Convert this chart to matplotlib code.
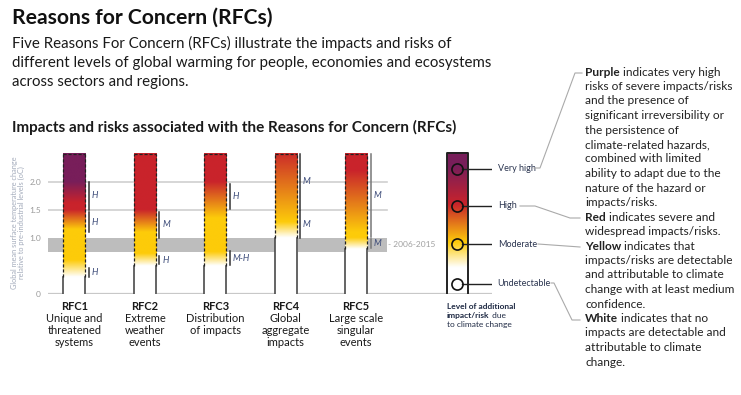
import matplotlib

matplotlib.use("Agg")

import matplotlib.pyplot as plt
import numpy as np
from matplotlib.colors import LinearSegmentedColormap
from matplotlib.lines import Line2D

plt.rcParams["font.family"] = ["Lato", "DejaVu Sans"]

# --- data ------------------------------------------------------------------
rfc_names = ["RFC1", "RFC2", "RFC3", "RFC4", "RFC5"]
rfc_desc = [
    ["Unique and", "threatened", "systems"],
    ["Extreme", "weather", "events"],
    ["Distribution", "of impacts"],
    ["Global", "aggregate", "impacts"],
    ["Large scale", "singular", "events"],
]
# (temperature degC, risk level 0=white 1=yellow 2=red 3=purple)
rfc_levels = [
    [(0.30, 0), (0.60, 1), (1.15, 1), (1.50, 2), (1.62, 2), (2.00, 3)],
    [(0.50, 0), (0.72, 1), (1.10, 1), (1.50, 2)],
    [(0.50, 0), (0.75, 1), (1.35, 1), (2.00, 2)],
    [(1.00, 0), (1.28, 1), (2.50, 1.95)],
    [(0.80, 0), (1.00, 1), (1.10, 1), (2.20, 2)],
]
# confidence brackets: (low, high, label)
rfc_conf = [
    [(1.50, 2.00, "H"), (1.10, 1.47, "H"), (0.31, 0.46, "H")],
    [(1.00, 1.47, "M"), (0.54, 0.67, "H")],
    [(1.52, 1.96, "H"), (0.52, 0.76, "M-H")],
    [(1.50, 2.50, "M"), (1.00, 1.48, "M")],
    [(1.02, 2.50, "M"), (0.82, 0.98, "M")],
]
bar_top = 2.5
y_ticks = [0, 1.0, 1.5, 2.0]
y_ticklabels = ["0", "1.0", "1.5", "2.0"]
obs_band = (0.75, 1.0)  # 2006-2015 warming

legend_labels = ["Very high", "High", "Moderate", "Undetectable"]
legend_pos = [2.24, 1.58, 0.89, 0.18]
legend_levels = [(0.45, 0), (0.90, 1), (1.58, 2), (2.25, 3)]

notes = [
    ("Purple", " indicates very high"),
    ("", "risks of severe impacts/risks"),
    ("", "and the presence of"),
    ("", "significant irreversibility or"),
    ("", "the persistence of"),
    ("", "climate-related hazards,"),
    ("", "combined with limited"),
    ("", "ability to adapt due to the"),
    ("", "nature of the hazard or"),
    ("", "impacts/risks."),
    ("Red", " indicates severe and"),
    ("", "widespread impacts/risks."),
    ("Yellow", " indicates that"),
    ("", "impacts/risks are detectable"),
    ("", "and attributable to climate"),
    ("", "change with at least medium"),
    ("", "confidence."),
    ("White", " indicates that no"),
    ("", "impacts are detectable and"),
    ("", "attributable to climate"),
    ("", "change."),
]

risk_cmap = LinearSegmentedColormap.from_list(
    "risk", ["#ffffff", "#fdcb0a", "#c9232b", "#781e5a"]
)

W, H = 741, 395
fig = plt.figure(figsize=(W / 100, H / 100), dpi=100)


def fx(px):
    return px / W


def fy(py):
    return 1 - py / H


# main axes: y=0 at pixel 294, 56 px per degC
ax = fig.add_axes([fx(48), fy(294), fx(444), 2.55 * 56 / H])
x0, x1 = -0.376, 5.93
ax.set_xlim(x0, x1)
ax.set_ylim(0, 2.55)
for s in ax.spines.values():
    s.set_visible(False)
ax.set_xticks([])
ax.set_yticks(y_ticks)
ax.set_yticklabels(y_ticklabels, fontsize=6, color="#9a9a9a")
ax.tick_params(axis="y", length=0, pad=5)

grid_end = 4.44
ax.fill_between([x0, grid_end], obs_band[0], obs_band[1], color="#bdbdbd", lw=0, zorder=1)
for t in (1.5, 2.0):
    ax.plot([x0, grid_end], [t, t], color="#d0d0d0", lw=1.2, zorder=1)
ax.plot([x0, x1], [0, 0], color="#c8c8c8", lw=1.6, zorder=1)
ax.text(grid_end + 0.01, np.mean(obs_band), "- 2006-2015", fontsize=6,
        color="#a0a0a0", va="center", ha="left")

yy = np.linspace(0, bar_top, 400)
bw = 0.3125
for i, name in enumerate(rfc_names):
    t, lv = zip(*rfc_levels[i])
    lev = np.interp(yy, t, lv) / 3.0
    ax.imshow(lev[:, None], cmap=risk_cmap, vmin=0, vmax=1, origin="lower",
              extent=[i - bw / 2, i + bw / 2, 0, bar_top], aspect="auto",
              interpolation="bilinear", zorder=2)
    start = t[0]
    for xe in (i - bw / 2, i + bw / 2):
        ax.plot([xe, xe], [0, start], color="#4a4a4a", lw=1.2, zorder=3)
        ax.plot([xe, xe], [start, bar_top], color="#222222", lw=0.9,
                ls=(0, (2.5, 1.5)), zorder=3)
    ax.plot([i - bw / 2, i + bw / 2], [bar_top, bar_top], color="#222222",
            lw=0.9, ls=(0, (2.5, 1.5)), zorder=3)

    lc = "#777777" if i == 4 else "#333333"
    for lo, hi, lab in rfc_conf[i]:
        ax.plot([i + 0.205, i + 0.205], [lo, hi], color=lc, lw=1.1, zorder=3)
        ax.text(i + 0.245, (lo + hi) / 2, lab, fontsize=6.5, style="italic",
                color="#3b4a78", va="center", ha="left")

    ax.text(i, -0.215, name, fontsize=8, weight="bold", color="#1a1a1a",
            ha="center", va="center", clip_on=False)
    for k, line in enumerate(rfc_desc[i]):
        ax.text(i, -0.445 - k * 0.215, line, fontsize=8, color="#1a1a1a",
                ha="center", va="center", clip_on=False)

# legend bar
lx, lw_ = 5.44, 0.298
t, lv = zip(*legend_levels)
lev = np.interp(yy, t, lv) / 3.0
ax.imshow(lev[:, None], cmap=risk_cmap, vmin=0, vmax=1, origin="lower",
          extent=[lx - lw_ / 2, lx + lw_ / 2, 0.02, 2.52], aspect="auto",
          interpolation="bilinear", zorder=2)
ax.plot([lx - lw_ / 2, lx - lw_ / 2, lx + lw_ / 2, lx + lw_ / 2],
        [0.02, 2.52, 2.52, 0.02], color="#222222", lw=1.4, zorder=3)
for lab, yv in zip(legend_labels, legend_pos):
    ax.plot([lx + 0.07, x1], [yv, yv], color="#222222", lw=1.0, zorder=3)
    ax.plot([lx], [yv], marker="o", ms=8, mfc="none", mec="#111111", mew=1.2,
            zorder=4)
    ax.text(x1 + 0.08, yv, lab, fontsize=6.5, color="#2b3550", va="center",
            ha="left", clip_on=False)

# caption under legend bar
fig.text(fx(447), fy(306.5), "Level of additional", fontsize=6, weight="bold",
         color="#1f2a44", va="center")
cap = fig.text(fx(447), fy(315.5), "impact/risk", fontsize=6, weight="bold",
               color="#1f2a44", va="center")
fig.text(fx(447), fy(325), "to climate change", fontsize=6, color="#1f2a44",
         va="center")
ax.annotate(" due", xy=(1, 0), xycoords=cap, fontsize=6, color="#1f2a44",
            va="bottom", ha="left")

# y axis label
fig.text(fx(18), fy(223),
         "Global mean surface temperature change\nrelative to pre-industrial levels (oC)",
         rotation=90, fontsize=5.3, color="#a3abbb", ha="center", va="center",
         linespacing=1.1)

# headings
fig.text(fx(12), fy(18), "Reasons for Concern (RFCs)", fontsize=15.2,
         weight="bold", color="#111111", va="center")
sub = [
    "Five Reasons For Concern (RFCs) illustrate the impacts and risks of",
    "different levels of global warming for people, economies and ecosystems",
    "across sectors and regions.",
]
for k, line in enumerate(sub):
    fig.text(fx(12), fy(43 + k * 19.5), line, fontsize=10.8, color="#1a1a1a",
             va="center")
fig.text(fx(12), fy(127),
         "Impacts and risks associated with the Reasons for Concern (RFCs)",
         fontsize=11, weight="bold", color="#1a1a1a", va="center")

# explanatory notes on the right
for k, (b, rest) in enumerate(notes):
    yv = fy(72 + k * 14.5)
    if b:
        bt = fig.text(fx(585), yv, b, fontsize=8.6, weight="bold",
                      color="#222222", va="center")
        ax.annotate(rest, xy=(1, 0), xycoords=bt, fontsize=8.6,
                    color="#222222", va="bottom", ha="left")
    else:
        fig.text(fx(585), yv, rest, fontsize=8.6, color="#222222", va="center")

# grey connectors from legend labels to notes
connectors = [
    [(534, 168), (540, 168), (575, 73), (582, 73)],
    [(520, 206), (535, 206), (570, 218), (580, 218)],
    [(538, 244), (580, 247)],
    [(551, 283), (554, 283), (572, 320), (580, 320)],
]
for path in connectors:
    xs, ys = zip(*path)
    fig.add_artist(Line2D([fx(v) for v in xs], [fy(v) for v in ys],
                          color="#aaaaaa", lw=0.8))

fig.savefig("out.png", dpi=100)
